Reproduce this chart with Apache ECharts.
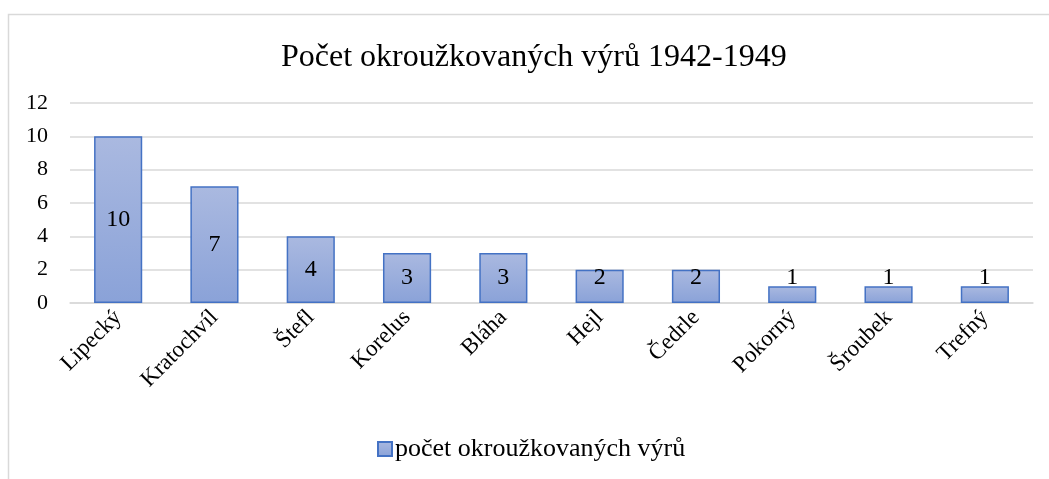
<!DOCTYPE html>
<html>
<head>
<meta charset="utf-8">
<script src="https://cdn.jsdelivr.net/npm/echarts@6/dist/echarts.min.js"></script>
<style>
    html, body { margin: 0; padding: 0; background: #fff; }
    #chart { width: 1049px; height: 479px; }
</style>
</head>
<body>
<div id="chart"></div>
<script>
const titleText = 'Počet okroužkovaných výrů 1942-1949';
const seriesName = 'počet okroužkovaných výrů';
const names = ['Lipecký', 'Kratochvíl', 'Štefl', 'Korelus', 'Bláha', 'Hejl', 'Čedrle', 'Pokorný', 'Šroubek', 'Trefný'];
const counts = [10, 7, 4, 3, 3, 2, 2, 1, 1, 1];
const yTicks = [0, 2, 4, 6, 8, 10, 12];

const font = '"Liberation Serif", "Times New Roman", serif';
const chart = echarts.init(document.getElementById('chart'));

// Excel keeps small-bar labels from sinking below the 3-unit mark
const unitPx = 200 / 12;
const barData = counts.map(v => ({
    value: v,
    label: { offset: [0, v < 3 ? -(3 - v) * unitPx / 2 : 0] }
}));

chart.setOption({
    animation: false,
    textStyle: { fontFamily: font },
    graphic: [{
        type: 'rect',
        left: 6, top: 12,
        shape: { width: 1100, height: 520 },
        style: { fill: 'none', stroke: '#d9d9d9', lineWidth: 1.5 },
        silent: true
    }],
    title: {
        text: titleText,
        left: 276,
        top: 37,
        textStyle: { fontFamily: font, fontSize: 32, fontWeight: 'normal', color: '#000' }
    },
    grid: { left: 70, right: 16, top: 103, bottom: 176 },
    xAxis: {
        type: 'category',
        data: names,
        axisLine: { lineStyle: { color: '#d9d9d9', width: 1.5 } },
        axisTick: { show: false },
        axisLabel: { rotate: 45, fontFamily: font, fontSize: 23, color: '#000', margin: 11, interval: 0 }
    },
    yAxis: {
        type: 'value',
        min: yTicks[0],
        max: yTicks[yTicks.length - 1],
        interval: yTicks[1] - yTicks[0],
        axisLine: { show: false },
        axisTick: { show: false },
        axisLabel: { fontFamily: font, fontSize: 22, color: '#000', margin: 22 },
        splitLine: { lineStyle: { color: '#d9d9d9', width: 1.5 } }
    },
    legend: {
        data: [seriesName],
        bottom: 12,
        left: 372,
        icon: 'rect',
        itemWidth: 14,
        itemHeight: 14,
        itemGap: 4,
        textStyle: { fontFamily: font, fontSize: 26, color: '#000', padding: [0, 0, 0, -2] }
    },
    series: [{
        name: seriesName,
        type: 'bar',
        data: barData,
        barWidth: '50%',
        itemStyle: {
            color: {
                type: 'linear', x: 0, y: 0, x2: 0, y2: 1,
                colorStops: [
                    { offset: 0, color: '#aab9e0' },
                    { offset: 1, color: '#8aa2d8' }
                ]
            },
            borderColor: '#4472c4',
            borderWidth: 1.5
        },
        label: {
            show: true,
            position: 'inside',
            fontFamily: font,
            fontSize: 24,
            color: '#000'
        }
    }]
});
</script>
</body>
</html>
